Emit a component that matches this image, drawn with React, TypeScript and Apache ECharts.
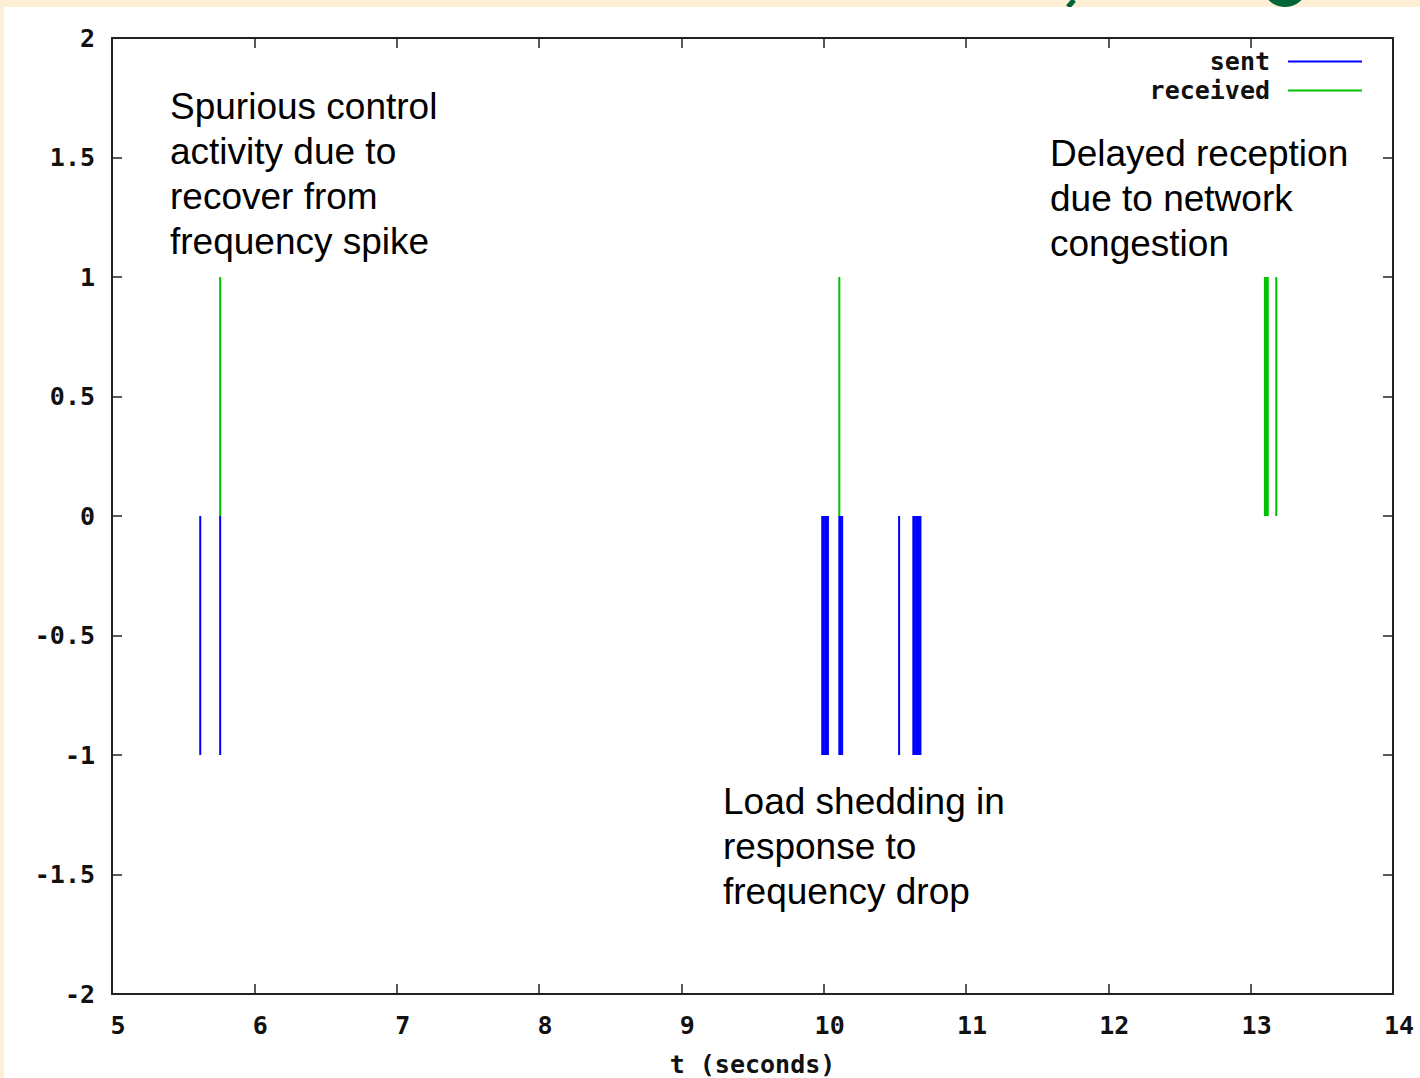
import React, { useEffect, useRef } from "react";
import * as echarts from "echarts";

// Event times (seconds) and impulse heights
const sentTimes = [5.62, 5.76, 9.99, 10.0, 10.01, 10.02, 10.03, 10.11, 10.12, 10.13, 10.53, 10.63, 10.64, 10.65, 10.66, 10.67, 10.68];
const sentValues = [-1, -1, -1, -1, -1, -1, -1, -1, -1, -1, -1, -1, -1, -1, -1, -1, -1];
const receivedTimes = [5.76, 10.11, 13.1, 13.11, 13.12, 13.18];
const receivedValues = [1, 1, 1, 1, 1, 1];

const xTicks = { min: 5, max: 14, interval: 1 };
const yTicks = { min: -2, max: 2, interval: 0.5 };

const BLUE = "#0000ff";
const GREEN = "#00c000";
const AXIS = "#222222";
const MONO = "DejaVu Sans Mono";
const SANS = "Liberation Sans, Arial, sans-serif";

const notes = [
  { x: 170, y: 84, text: "Spurious control\nactivity due to\nrecover from\nfrequency spike" },
  { x: 1050, y: 131, text: "Delayed reception\ndue to network\ncongestion" },
  { x: 723, y: 779, text: "Load shedding in\nresponse to\nfrequency drop" },
];

function impulse(color: string) {
  return (_params: any, api: any) => {
    const t = api.value(0);
    const v = api.value(1);
    const p0 = api.coord([t, 0]);
    const p1 = api.coord([t, v]);
    return {
      type: "line",
      shape: { x1: p0[0], y1: p0[1], x2: p1[0], y2: p1[1] },
      style: { stroke: color, lineWidth: 2 },
    };
  };
}

export default function App() {
  const ref = useRef<HTMLDivElement>(null);

  useEffect(() => {
    if (!ref.current) return;
    const chart = echarts.init(ref.current, null, { renderer: "svg" });

    const tickLabel = { fontFamily: MONO, fontWeight: "bold", fontSize: 25, color: "#111" };
    const frameLine = { show: true, onZero: false, lineStyle: { color: AXIS, width: 2 } };
    const innerTick = { show: true, inside: true, length: 10, lineStyle: { color: AXIS, width: 1.5 } };

    const legendBase = {
      orient: "horizontal",
      align: "right",
      right: 53,
      itemWidth: 74,
      itemHeight: 2,
      itemGap: 0,
      icon: "rect",
      selectedMode: false,
      textStyle: { fontFamily: MONO, fontWeight: "bold", fontSize: 25, color: "#111", padding: [0, 13, 0, 0] },
    };

    chart.setOption({
      animation: false,
      backgroundColor: "#fcefd4",
      grid: { left: 112, top: 38, right: 27, bottom: 84, containLabel: false, outerBoundsMode: "none" },
      xAxis: [
        {
          type: "value",
          position: "bottom",
          ...xTicks,
          name: "t (seconds)",
          nameLocation: "middle",
          nameGap: 58,
          nameTextStyle: { ...tickLabel },
          axisLine: frameLine,
          axisTick: innerTick,
          splitLine: { show: false },
          axisLabel: { ...tickLabel, margin: 19, padding: [0, 0, 0, 12] },
        },
        {
          type: "value",
          position: "top",
          ...xTicks,
          axisLine: frameLine,
          axisTick: innerTick,
          splitLine: { show: false },
          axisLabel: { show: false },
        },
      ],
      yAxis: [
        {
          type: "value",
          position: "left",
          ...yTicks,
          axisLine: frameLine,
          axisTick: innerTick,
          splitLine: { show: false },
          axisLabel: { ...tickLabel, margin: 17 },
        },
        {
          type: "value",
          position: "right",
          ...yTicks,
          axisLine: frameLine,
          axisTick: innerTick,
          splitLine: { show: false },
          axisLabel: { show: false },
        },
      ],
      legend: [
        { ...legendBase, top: 44, data: [{ name: "sent", icon: "rect" }] },
        { ...legendBase, top: 73, data: [{ name: "received", icon: "rect" }] },
      ],
      series: [
        {
          name: "sent",
          type: "custom",
          itemStyle: { color: BLUE },
          renderItem: impulse(BLUE),
          encode: { x: 0, y: 1 },
          data: sentTimes.map((t, i) => [t, sentValues[i]]),
          z: 3,
        },
        {
          name: "received",
          type: "custom",
          itemStyle: { color: GREEN },
          renderItem: impulse(GREEN),
          encode: { x: 0, y: 1 },
          data: receivedTimes.map((t, i) => [t, receivedValues[i]]),
          z: 3,
        },
      ],
      graphic: [
        { type: "circle", z: -20, shape: { cx: 1285, cy: -16, r: 23 }, style: { fill: "#00663a" } },
        { type: "polyline", z: -20, shape: { points: [[1068, 7], [1074, 0]] }, style: { stroke: "#00663a", lineWidth: 5 } },
        { type: "rect", z: -10, shape: { x: 4, y: 7, width: 1416, height: 1071 }, style: { fill: "#ffffff" } },
        ...notes.map((n) => ({
          type: "text",
          z: 10,
          x: n.x,
          y: n.y,
          style: {
            text: n.text,
            fontFamily: SANS,
            fontSize: 37,
            lineHeight: 45,
            fill: "#000",
            textAlign: "left",
            textVerticalAlign: "top",
          },
        })),
      ],
    });

    return () => chart.dispose();
  }, []);

  return (
    <div
      ref={ref}
      style={{ position: "absolute", left: 0, top: 0, width: 1420, height: 1078 }}
    />
  );
}
